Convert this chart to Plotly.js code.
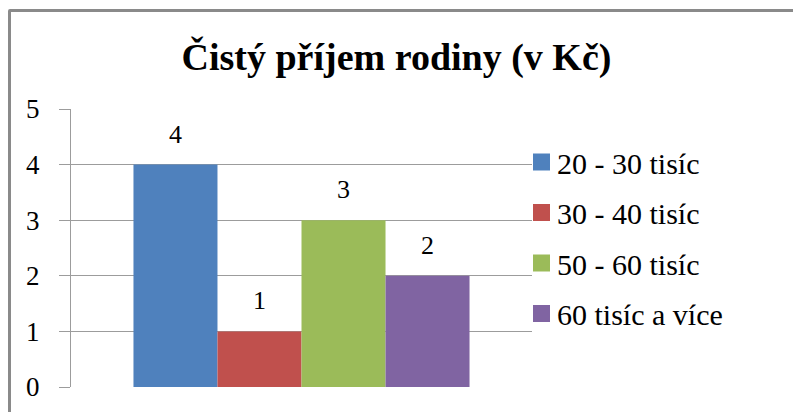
<!DOCTYPE html>
<html>
<head>
<meta charset="utf-8">
<script src="https://cdn.plot.ly/plotly-3.0.1.min.js"></script>
<style>
  html, body { margin: 0; padding: 0; width: 793px; height: 412px; overflow: hidden; background: #fff; }
  #chart { position: absolute; left: 0; top: 0; width: 793px; height: 412px; }
  #frame { position: absolute; left: 8px; top: 9px; width: 900px; height: 600px;
           border: 3px solid #8a8a8a; border-radius: 2px; pointer-events: none; }
</style>
</head>
<body>
<div id="chart"></div>
<div id="frame"></div>
<script>
const titleText = "Čistý příjem rodiny (v Kč)";
const category = [""];
const seriesNames = ["20 - 30 tisíc", "30 - 40 tisíc", "50 - 60 tisíc", "60 tisíc a více"];
const seriesValues = [4, 1, 3, 2];
const seriesColors = ["#4F81BD", "#C0504D", "#9BBB59", "#8064A2"];
const yTicks = [0, 1, 2, 3, 4, 5];

const FONT = "'Liberation Serif', 'Times New Roman', serif";
const LINE = "#9c9c9c";

const traces = seriesNames.map((name, i) => ({
  type: "bar",
  name: name,
  x: category,
  y: [seriesValues[i]],
  text: [String(seriesValues[i])],
  textposition: "outside",
  textfont: { family: FONT, size: 26, color: "#000" },
  cliponaxis: false,
  marker: { color: seriesColors[i], line: { width: 0 } },
  legendgroup: "g" + i,
  hoverinfo: "none"
}));

const layout = {
  width: 793, height: 412,
  margin: { l: 71, r: 261, t: 109, b: 25 },
  paper_bgcolor: "#fff", plot_bgcolor: "#fff",
  font: { family: FONT, color: "#000" },
  title: {
    text: "<b>" + titleText + "</b>",
    font: { family: FONT, size: 38, color: "#000" },
    x: 0.5, xref: "container", xanchor: "center",
    y: 1 - 57 / 412, yref: "container", yanchor: "middle"
  },
  barmode: "group",
  bargap: 0.271,
  bargroupgap: 0,
  xaxis: {
    type: "category",
    range: [-0.5, 0.5],
    showticklabels: false,
    ticks: "",
    showgrid: false,
    zeroline: false,
    showline: false
  },
  yaxis: {
    range: [0, 5],
    tickvals: yTicks,
    ticktext: yTicks.map(String),
    tickfont: { family: FONT, size: 27, color: "#000" },
    ticks: "outside",
    ticklen: 11,
    tickcolor: LINE,
    tickwidth: 1,
    ticklabelstandoff: 14,
    showgrid: true,
    gridcolor: LINE,
    gridwidth: 1,
    showline: true,
    linecolor: LINE,
    linewidth: 1,
    zeroline: false
  },
  showlegend: true,
  legend: {
    x: 1.0, xanchor: "left",
    y: 1 - (162 - 109 - 26) / 278, yanchor: "top",
    font: { family: FONT, size: 30, color: "#000" },
    traceorder: "grouped",
    tracegroupgap: 8.5,
    itemwidth: 30,
    bgcolor: "rgba(0,0,0,0)"
  }
};

Plotly.newPlot("chart", traces, layout, { staticPlot: true, displayModeBar: false }).then(() => {
  document.querySelectorAll("text.bartext").forEach(el => {
    const t = el.getAttribute("transform") || "";
    el.setAttribute("transform", "translate(0,-13) " + t);
  });
  const chartBox = document.getElementById("chart").getBoundingClientRect();
  document.querySelectorAll(".legend .traces").forEach(g => {
    const p = g.querySelector(".legendpoints path");
    const txt = g.querySelector("text.legendtext");
    if (p) {
      p.setAttribute("d", "M8.5,8.5H-8.5V-8.5H8.5Z");
      const pb = p.getBoundingClientRect();
      const dxp = 533 - (pb.left - chartBox.left);
      const lp = g.querySelector(".legendpoints");
      lp.setAttribute("transform", "translate(" + dxp + ",0)");
    }
    if (txt) {
      const tb = txt.getBoundingClientRect();
      const dx = 557 - (tb.left - chartBox.left);
      txt.setAttribute("x", parseFloat(txt.getAttribute("x") || 0) + dx);
    }
  });
});
</script>
</body>
</html>
